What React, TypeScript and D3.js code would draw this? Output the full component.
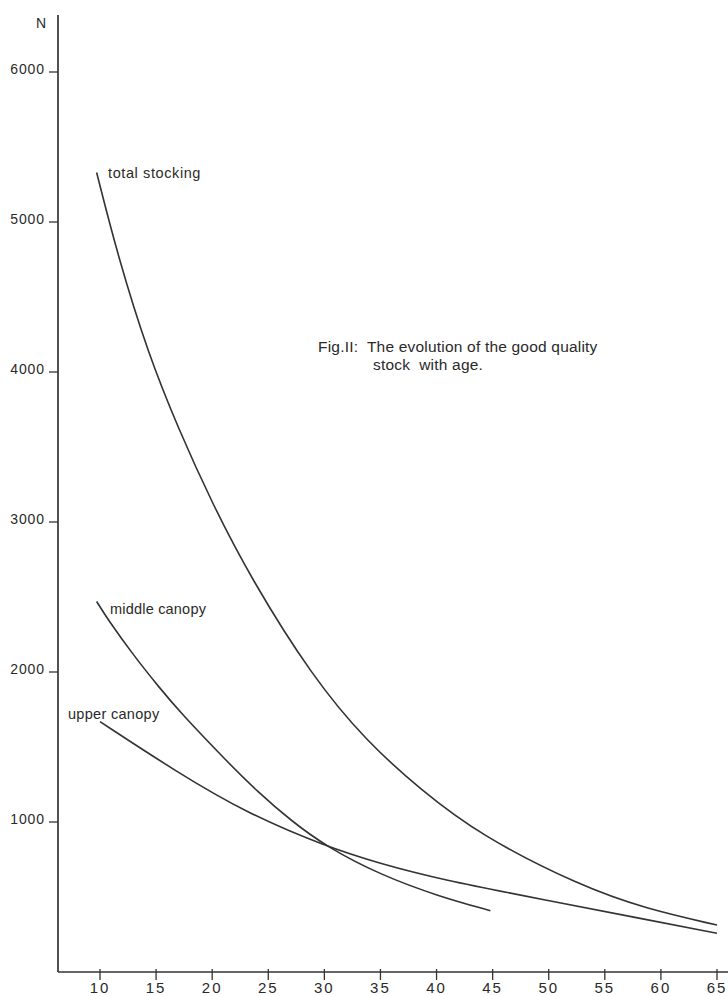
import React from "react";
import * as d3 from "d3";

const xTicks = [10, 15, 20, 25, 30, 35, 40, 45, 50, 55, 60, 65];
const yTicks = [1000, 2000, 3000, 4000, 5000, 6000];

const totalAge = [9.7, 11.6, 14.3, 17.0, 19.9, 23.4, 29.0, 33.8, 38.5, 43.9, 52.8, 58.7, 65.0];
const totalN = [5330, 4770, 4120, 3620, 3140, 2630, 1960, 1535, 1220, 910, 574, 420, 313];

const middleAge = [9.7, 10.7, 13.0, 15.3, 17.1, 21.3, 24.0, 27.0, 30.2, 35.0, 40.3, 44.8];
const middleN = [2470, 2350, 2110, 1895, 1735, 1405, 1205, 1010, 835, 647, 502, 409];

const upperAge = [10.0, 16.8, 23.1, 30.2, 35.0, 40.3, 49.8, 58.7, 65.0];
const upperN = [1669, 1335, 1058, 835, 722, 618, 478, 350, 258];

const seriesLabels = ["total stocking", "middle canopy", "upper canopy"];
const titleLines = ["Fig.II:  The evolution of the good quality", "stock  with age."];
const yAxisLabel = "N";

export default function App() {
  const W = 728;
  const H = 996;
  const x = d3.scaleLinear().domain([10, 65]).range([100, 717]);
  const y = d3.scaleLinear().domain([0, 6000]).range([972, 72]);
  const axisX = 58;
  const axisY = y(0);

  const line = d3
    .line<[number, number]>()
    .x((d) => x(d[0]))
    .y((d) => y(d[1]))
    .curve(d3.curveBasis);

  const series = [
    { age: totalAge, n: totalN },
    { age: middleAge, n: middleN },
    { age: upperAge, n: upperN },
  ];

  const stroke = "#333";
  const textFill = "#2a2a2a";
  const font = "'Liberation Sans', Arial, Helvetica, sans-serif";

  return (
    <svg
      width={W}
      height={H}
      style={{ position: "absolute", left: 0, top: 0, background: "#fff" }}
      fontFamily={font}
    >
      <rect x={0} y={0} width={W} height={H} fill="#fff" />
      <line x1={axisX} y1={15} x2={axisX} y2={axisY} stroke={stroke} strokeWidth={1.7} />
      <line x1={axisX} y1={axisY} x2={W} y2={axisY} stroke={stroke} strokeWidth={1.7} />
      <text x={41} y={28} fontSize={14} textAnchor="middle" fill={textFill}>
        {yAxisLabel}
      </text>
      {yTicks.map((t) => (
        <g key={t}>
          <line x1={axisX - 9} y1={y(t)} x2={axisX} y2={y(t)} stroke={stroke} strokeWidth={1.3} />
          <text x={axisX - 13} y={y(t) + 2} fontSize={14} letterSpacing={0.9} textAnchor="end" fill={textFill}>
            {t}
          </text>
        </g>
      ))}
      {xTicks.map((t) => (
        <g key={t}>
          <line x1={x(t)} y1={axisY - 3} x2={x(t)} y2={axisY + 8} stroke={stroke} strokeWidth={1.3} />
          <text x={x(t)} y={axisY + 21} fontSize={15} letterSpacing={2} textAnchor="middle" fill={textFill}>
            {t}
          </text>
        </g>
      ))}
      {series.map((s, i) => (
        <path
          key={i}
          d={line(s.age.map((a, j) => [a, s.n[j]] as [number, number])) || ""}
          fill="none"
          stroke={stroke}
          strokeWidth={1.6}
        />
      ))}
      <text x={108} y={178} fontSize={14.5} letterSpacing={0.6} fill={textFill}>
        {seriesLabels[0]}
      </text>
      <text x={110} y={614} fontSize={14.5} letterSpacing={0.2} fill={textFill}>
        {seriesLabels[1]}
      </text>
      <text x={68} y={719} fontSize={14.5} letterSpacing={0.3} fill={textFill}>
        {seriesLabels[2]}
      </text>
      <text x={318} y={352} fontSize={15.5} letterSpacing={0.2} fill={textFill} xmlSpace="preserve">
        {titleLines[0]}
      </text>
      <text x={373} y={370} fontSize={15.5} letterSpacing={0.2} fill={textFill} xmlSpace="preserve">
        {titleLines[1]}
      </text>
    </svg>
  );
}
